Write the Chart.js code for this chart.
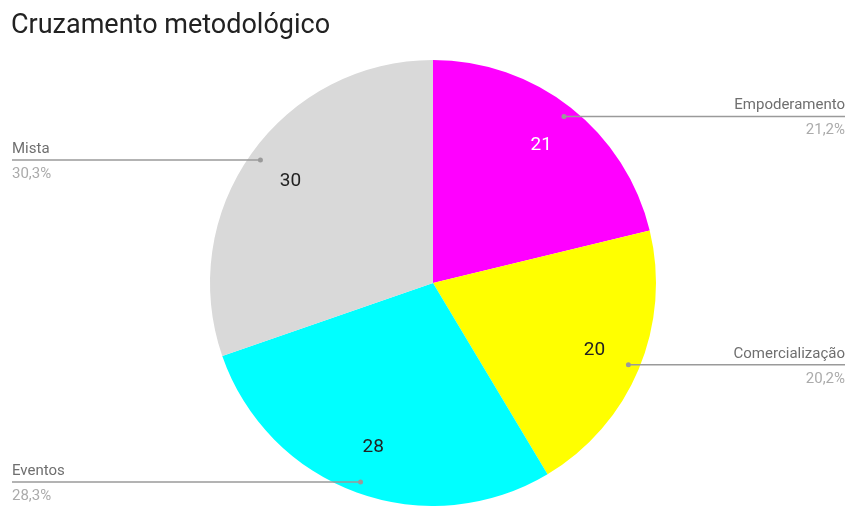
<!DOCTYPE html>
<html>
<head>
<meta charset="utf-8">
<script src="https://cdn.jsdelivr.net/npm/chart.js@4.4.1/dist/chart.umd.min.js"></script>
<style>
  body { margin: 0; background: #fff; }
  #wrap { width: 855px; height: 506px; }
</style>
</head>
<body>
<div id="wrap"><canvas id="myChart" width="855" height="506"></canvas></div>
<script>
// data
const categories = ['Empoderamento', 'Comercialização', 'Eventos', 'Mista']
const values = [21, 20, 28, 30]
const sliceColors = ['#ff00ff', '#ffff00', '#00ffff', '#d9d9d9']
const valueTextColors = ['#ffffff', '#222222', '#222222', '#222222']

const FONT = 'Roboto, "Noto Sans", sans-serif'

// leader lines + labels, drawn from the arcs the library computed
const pieLabels = {
    id: 'pieLabels',
    afterDatasetsDraw(chart) {
        const ctx = chart.ctx
        const meta = chart.getDatasetMeta(0)
        const total = values.reduce((a, b) => a + b, 0)
        ctx.save()
        meta.data.forEach((arc, i) => {
            const p = arc.getProps(['x', 'y', 'startAngle', 'endAngle', 'outerRadius'], true)
            const mid = (p.startAngle + p.endAngle) / 2
            const r = p.outerRadius

            // value inside slice
            ctx.font = '19px ' + FONT
            ctx.fillStyle = valueTextColors[i]
            ctx.textAlign = 'center'
            ctx.textBaseline = 'middle'
            ctx.fillText(values[i], p.x + Math.cos(mid) * r * 0.785, p.y + Math.sin(mid) * r * 0.785)

            // leader line
            const dx = p.x + Math.cos(mid) * r * 0.95
            const dy = p.y + Math.sin(mid) * r * 0.95
            const left = Math.cos(mid) < 0
            const endX = left ? 12 : 845
            ctx.strokeStyle = '#9a9a9a'
            ctx.lineWidth = 1.5
            ctx.beginPath()
            ctx.moveTo(dx, dy)
            ctx.lineTo(endX, dy)
            ctx.stroke()
            ctx.fillStyle = '#9a9a9a'
            ctx.beginPath()
            ctx.arc(dx, dy, 2.5, 0, Math.PI * 2)
            ctx.fill()

            // name + percent
            ctx.textAlign = left ? 'left' : 'right'
            ctx.textBaseline = 'alphabetic'
            ctx.font = '15px ' + FONT
            ctx.fillStyle = '#6f6f6f'
            ctx.fillText(categories[i], endX, dy - 7)
            ctx.fillStyle = '#ababab'
            const pct = (values[i] / total * 100).toFixed(1).replace('.', ',') + '%'
            ctx.fillText(pct, endX, dy + 18)
        })
        ctx.restore()
    }
}

const config = {
    type: 'pie',
    data: {
        labels: categories,
        datasets: [{
            data: values,
            backgroundColor: sliceColors,
            borderWidth: 0
        }]
    },
    options: {
        responsive: false,
        animation: false,
        layout: { padding: { left: 11, right: 0, top: 0, bottom: 0 } },
        plugins: {
            legend: { display: false },
            tooltip: { enabled: false },
            title: {
                display: true,
                text: 'Cruzamento metodológico',
                align: 'start',
                color: '#222222',
                font: { family: FONT, size: 27, weight: 'normal', lineHeight: 1.2 },
                padding: { top: 10, bottom: 17.6 }
            }
        }
    },
    plugins: [pieLabels]
}

const myChart = new Chart(document.getElementById('myChart'), config)
</script>
</body>
</html>
